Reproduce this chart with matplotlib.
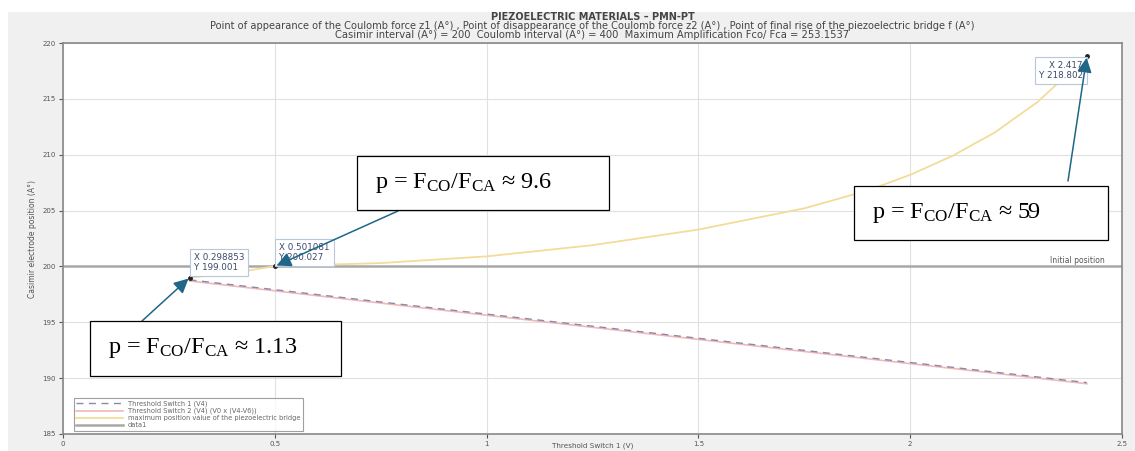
import matplotlib.pyplot as plt
from matplotlib.patches import Rectangle

plt.rcParams["mathtext.fontset"] = "custom"
plt.rcParams["mathtext.rm"] = "Liberation Serif"
plt.rcParams["mathtext.it"] = "Liberation Serif:italic"

# values
bridge_x = [0.298853, 0.4, 0.501081, 0.75, 1.0, 1.25, 1.5, 1.75, 1.9, 2.0, 2.1, 2.2, 2.3, 2.417]
bridge_y = [199.001, 199.4, 200.027, 200.3, 200.9, 201.9, 203.3, 205.2, 206.8, 208.2,
            209.9, 212.0, 214.7, 218.802]
switch_x = [0.298853, 0.8, 1.4, 2.0, 2.417]
switch1_y = [198.8, 196.6, 194.0, 191.4, 189.6]
switch2_y = [198.7, 196.5, 193.9, 191.3, 189.5]
initial_pos = 200.0

tip_x = [0.298853, 0.501081, 2.417]
tip_y = [199.001, 200.027, 218.802]
tip_labels = ["X 0.298853\nY 199.001", "X 0.501081\nY 200.027", "X 2.417\nY 218.802"]
ratio_labels = ["1.13", "9.6", "59"]

W, H = 1135, 451
fig = plt.figure(figsize=(W / 100, H / 100), dpi=100)
fig.patch.set_facecolor("white")
fig.add_artist(Rectangle((8 / W, 0), 1 - 8 / W, 1 - 12 / H, transform=fig.transFigure,
                         facecolor="#f0f0f0", edgecolor="none", zorder=0))

ax = fig.add_axes([63 / W, 1 - 434 / H, (1122 - 63) / W, (434 - 43) / H])
ax.set_facecolor("white")

ax.axhline(initial_pos, color="#a8a8a8", lw=1.8, label="data1", zorder=2)
ax.plot(switch_x, switch2_y, color="#f2b8b8", lw=1.2,
        label="Threshold Switch 2 (V4) (V0 x (V4-V6))", zorder=3)
ax.plot(switch_x, switch1_y, color="#8a8aa8", lw=1.0, ls=(0, (5, 4)),
        label="Threshold Switch 1 (V4)", zorder=4)
ax.plot(bridge_x, bridge_y, color="#f3dc9a", lw=1.3,
        label="maximum position value of the piezoelectric bridge", zorder=3)
ax.plot(tip_x, tip_y, "o", color="#222222", ms=2.5, zorder=6)

ax.set_xlim(0, 2.5)
ax.set_ylim(185, 220)
ax.set_xticks([0, 0.5, 1, 1.5, 2, 2.5])
ax.set_xticklabels(["0", "0.5", "1", "1.5", "2", "2.5"])
ax.set_yticks(range(185, 221, 5))
ax.tick_params(labelsize=5, colors="#555555", length=3, pad=2)
ax.grid(True, color="#e0e0e0", lw=0.8)
for s in ax.spines.values():
    s.set_color("#888888")
    s.set_linewidth(1.2)
ax.set_xlabel("Threshold Switch 1 (V)", fontsize=5.2, color="#555555", va="bottom")
ax.xaxis.set_label_coords(0.5, -15 / 391)
ax.set_ylabel("Casimir electrode position (A°)", fontsize=5.5, color="#555555", labelpad=4)

ax.text(2.46, 200.15, "Initial position", fontsize=5.5, color="#555555", ha="right", va="bottom")

cx = 592.5 / W
fig.text(cx, 1 - 17.5 / H, "PIEZOELECTRIC MATERIALS – PMN-PT", fontsize=7,
         fontweight="bold", color="#444444", ha="center", va="center")
fig.text(cx, 1 - 26 / H,
         "Point of appearance of the Coulomb force z1 (A°) , Point of disappearance of the Coulomb "
         "force z2 (A°) , Point of final rise of the piezoelectric bridge f (A°)",
         fontsize=7.1, color="#444444", ha="center", va="center")
fig.text(cx, 1 - 34.5 / H,
         "Casimir interval (A°) = 200  Coulomb interval (A°) = 400  Maximum Amplification Fco/ Fca = 253.1537",
         fontsize=7.2, color="#444444", ha="center", va="center")

# data tips
tip_offsets = [(3, 4, "left", "bottom"), (3, 3, "left", "bottom"), (-3, -3, "right", "top")]
for tx, ty, lab, (dx, dy, ha, va) in zip(tip_x, tip_y, tip_labels, tip_offsets):
    ax.annotate(lab, (tx, ty), xytext=(dx, dy), textcoords="offset points",
                fontsize=6.3, color="#3a4a6a", ha=ha, va=va, linespacing=1.15, zorder=7,
                bbox=dict(boxstyle="square,pad=0.45", fc="white", ec="#b8c8dc", lw=0.8))

leg = ax.legend(handles=[ax.lines[2], ax.lines[1], ax.lines[3], ax.lines[0]],
                loc="lower left", fontsize=4.8, handlelength=7, borderpad=0.35,
                labelspacing=0.15, fancybox=False, edgecolor="#888888",
                bbox_to_anchor=(0.007, 0.0))
leg.get_frame().set_linewidth(0.8)
for t in leg.get_texts():
    t.set_color("#666666")

# big callout boxes with arrows
boxes = [(90, 321, 341, 376), (357, 156, 609, 210), (854, 186, 1108, 240)]
starts = [(142, 321), (398, 211), (1068, 181)]
for (x0, y0, x1, y1), (sx, sy), tx, ty, r in zip(boxes, starts, tip_x, tip_y, ratio_labels):
    fig.add_artist(Rectangle((x0 / W, 1 - y1 / H), (x1 - x0) / W, (y1 - y0) / H,
                             transform=fig.transFigure, facecolor="white",
                             edgecolor="black", lw=0.9, zorder=8))
    fig.text((x0 + 18) / W, 1 - (y0 + y1) / 2 / H,
             r"p = F$_{\rm CO}$/F$_{\rm CA}$" + " ≈ " + r,
             fontsize=17.5, family="Liberation Serif", ha="left", va="center", zorder=9)
    ax.annotate("", xy=(tx, ty), xytext=(sx / W, 1 - sy / H), textcoords="figure fraction",
                arrowprops=dict(arrowstyle="-|>", color="#1f6688", lw=1.1,
                                mutation_scale=22, shrinkA=0, shrinkB=1), zorder=9)

fig.savefig("out.png", dpi=100)
